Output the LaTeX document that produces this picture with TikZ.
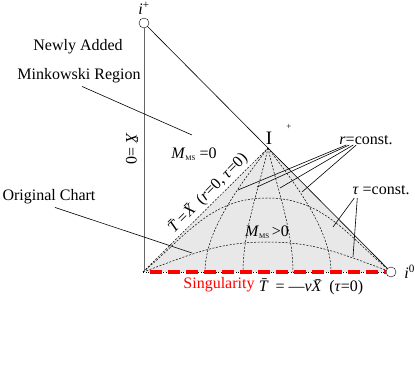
\documentclass[tikz,border=0pt]{standalone}
\usepackage{fontspec}
\setmainfont{Liberation Serif}
\usetikzlibrary{positioning}

\begin{document}
\begin{tikzpicture}[
  x=1pt, y=1pt,
  font=\fontsize{16}{18}\selectfont,
  endpt/.style={circle, draw, fill=white, minimum size=10pt, inner sep=0pt},
  lbl/.style={inner sep=0pt},
  rel/.style={line width=0.6pt},
  chart/.style={dash pattern=on 2pt off 1.5pt, line width=0.5pt},
  sing/.style={red, line width=4pt, dash pattern=on 12pt off 6pt}
]
\useasboundingbox (0,0) rectangle (415,374);
\coordinate (corner) at (143,102);
\coordinate (scri)   at (268,226);
\coordinate (izc)    at (391,102);

% original chart
\fill[gray!18] (corner) -- (scri) -- (izc) -- cycle;
\draw[chart] (corner) -- (scri);
\draw[chart] (scri) .. controls (240,189) and (205,144) .. (205,102);
\draw[chart] (scri) .. controls (260,189) and (243,144) .. (243,102);
\draw[chart] (scri) .. controls (276,189) and (293,144) .. (293,102);
\draw[chart] (scri) .. controls (296,189) and (331,144) .. (331,102);
\draw[chart] (corner) to[out=40,in=180] (267,176) to[out=0,in=140] (izc);
\draw[chart] (corner) to[out=20,in=180] (267,132) to[out=0,in=160] (izc);
\draw[dotted, line width=0.5pt] (corner) -- (izc);

\node[endpt] (iplus) at (144,351) {};
\node[endpt] (izero) at (izc) {};
\draw[gray!80!black, line width=0.8pt] (iplus) -- (iplus |- corner);
\draw[rel] (iplus) -- (izero);
\draw[sing] ([xshift=7pt]corner) -- (izero.west);

\node[lbl, above=3pt of iplus] (iplbl) {\textit{i}\textsuperscript{+}};
\node[lbl, right=8pt of izero] (i0lbl) {\textit{i}\textsuperscript{0}};
\node[lbl, font=\fontsize{19}{19}\selectfont] (scriI) at (269,236) {I};
\node[lbl, font=\fontsize{9}{9}\selectfont] (scriP) at (289,247) {+};

\node[lbl] (newly) at (78,327) {Newly Added};
\node[lbl] (mink)  at (79,298) {Minkowski Region};
\node[lbl] (orig)  at (49,177) {Original Chart};
\node[lbl, rotate=-90] (xzero) at (132,225) {\textit{\=X}=0};
\node[lbl] (mzero) at (194,220) {\textit{M}\raisebox{-2pt}{\fontsize{7}{7}\selectfont MS} =0};
\node[lbl] (mpos)  at (267,142) {\textit{M}\raisebox{-2pt}{\fontsize{7}{7}\selectfont MS}\,>0};
\node[lbl, rotate=45] (edge) at (208,181) {\textit{\=T}=\textit{\=X} (\textit{r}=0, \textit{τ}=0)};
\node[lbl] (rconst) at (366,234) {\textit{r}=const.};
\node[lbl] (tconst) at (381,184) {\textit{τ} =const.};
\node[lbl, red] (singlbl) at (219,89) {Singularity};
\node[lbl] (bottom) at (311,87) {\textit{\=T} = —\textit{ν\=X} (\textit{τ}=0)};

% pointers
\coordinate (newpt)  at (192,239);
\coordinate (origpt) at (192,121);
\coordinate (ra) at (238,184);
\coordinate (rb) at (257,187);
\coordinate (rc) at (280,186);
\coordinate (rd) at (302,182);
\coordinate (ta) at (333,147);
\coordinate (tb) at (353,117);
\draw[rel] ([xshift=3pt,yshift=-3pt]mink.south) -- (newpt);
\draw[rel] ([xshift=6pt,yshift=-3pt]orig.south) -- (origpt);
\draw[rel] ([xshift=7pt,yshift=-5pt]rconst.west) -- (ra);
\draw[rel] ([xshift=10pt,yshift=-5pt]rconst.west) -- (rb);
\draw[rel] ([xshift=14pt,yshift=-5pt]rconst.west) -- (rc);
\draw[rel] ([xshift=17pt,yshift=-5pt]rconst.west) -- (rd);
\draw[rel] ([xshift=2pt,yshift=-8pt]tconst.west) -- (ta);
\draw[rel] ([xshift=5pt,yshift=-8pt]tconst.west) -- (tb);
\end{tikzpicture}
\end{document}
